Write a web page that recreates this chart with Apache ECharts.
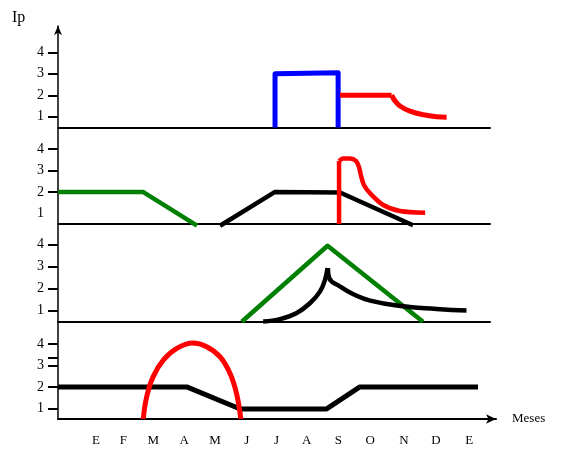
<!DOCTYPE html>
<html>
<head>
<meta charset="utf-8">
<script src="https://cdn.jsdelivr.net/npm/echarts@6/dist/echarts.min.js"></script>
<style>
  html, body { margin: 0; padding: 0; background: #fff; }
  #chart { width: 568px; height: 464px; }
</style>
</head>
<body>
<div id="chart"></div>
<script>
// months on the bottom axis and where each label sits (month units)
const months = ['E', 'F', 'M', 'A', 'M', 'J', 'J', 'A', 'S', 'O', 'N', 'D', 'E'];
const monthPos = [0, 0.88, 1.84, 2.84, 3.83, 4.85, 5.81, 6.78, 7.80, 8.82, 9.91, 10.94, 12.01];
const yLabels = [1, 2, 3, 4];

// panel 1
const p1Blue = [[5.76, 0.5], [5.76, 3.0], [7.79, 3.05], [7.79, 0.5]];
const p1RedFlat = [[7.85, 2], [9.51, 2]];
const p1RedTail = [[9.51, 2.0], [9.62, 1.74], [9.78, 1.5], [10.1, 1.26], [10.53, 1.09], [10.96, 1.0], [11.28, 0.98]];

// panel 2
const p2Green = [[-1.22, 2], [1.51, 2], [3.25, 0.42]];
const p2Black = [[3.99, 0.42], [5.76, 2], [7.85, 1.97], [10.2, 0.44]];
const p2RedRise = [[7.82, 0.5], [7.82, 3.44]];
const p2RedTail = [[7.82, 3.44], [7.95, 3.56], [8.17, 3.56], [8.37, 3.44], [8.46, 3.16], [8.53, 2.74], [8.62, 2.32], [8.82, 1.93], [9.24, 1.39], [9.78, 1.11], [10.59, 1.03]];

// panel 3
const p3Green = [[4.69, 0.5], [7.45, 3.95], [10.52, 0.5]];
const p3BlackRise = [[5.38, 0.51], [5.92, 0.62], [6.46, 0.9], [6.89, 1.35], [7.21, 1.88], [7.37, 2.41], [7.45, 2.94]];
const p3BlackTail = [[7.46, 2.94], [7.5, 2.5], [7.85, 2.1], [8.28, 1.75], [8.82, 1.46], [9.89, 1.2], [10.96, 1.08], [11.92, 1.01]];

// panel 4
const p4Black = [[-1.22, 2], [2.92, 2], [4.64, 0.97], [7.42, 0.97], [8.49, 2], [12.29, 2]];
const p4Red = [[1.52, 0.5], [1.63, 1.54], [1.84, 2.48], [2.17, 3.26], [2.6, 3.8], [3.11, 4.05], [3.56, 3.88], [3.99, 3.41], [4.31, 2.64], [4.52, 1.7], [4.66, 0.5]];

const FONT = '"Liberation Serif", "Times New Roman", serif';
const X_MIN = -1.223;
const UNIT = 31.08;

const panels = [
  { top: 41.5, height: 86, width: 432, ticks: [1, 2, 3, 4] },
  { top: 138.4, height: 85.6, width: 432, ticks: [2, 3, 4] },
  { top: 233.7, height: 88, width: 432, ticks: [1, 2, 3, 4] },
  { top: 333.4, height: 85.6, width: 438, ticks: [1, 2, 3, 3.35, 4] }
];

const chart = echarts.init(document.getElementById('chart'));

const grids = panels.map(p => ({ left: 58, top: p.top, width: p.width, height: p.height, outerBoundsMode: 'none' }));
grids.push({ left: 58, top: 26, width: 438, height: 393, outerBoundsMode: 'none' });

const xAxes = panels.map((p, i) => {
  const last = i === 3;
  return {
    gridIndex: i,
    type: 'value',
    min: X_MIN,
    max: X_MIN + p.width / UNIT,
    splitLine: { show: false },
    axisTick: { show: false },
    axisLine: {
      show: true,
      onZero: false,
      symbol: last ? ['none', 'arrow'] : 'none',
      symbolSize: [7, 10],
      lineStyle: { color: '#000', width: 2 }
    },
    name: last ? 'Meses' : '',
    nameLocation: 'end',
    nameGap: 16,
    nameTextStyle: { fontFamily: FONT, fontSize: 13, color: '#000' },
    axisLabel: last ? {
      show: true,
      customValues: monthPos,
      margin: 15,
      fontFamily: FONT,
      fontSize: 13,
      color: '#000',
      formatter: v => {
        let best = 0;
        monthPos.forEach((m, k) => { if (Math.abs(m - v) < Math.abs(monthPos[best] - v)) best = k; });
        return months[best];
      }
    } : { show: false }
  };
});
xAxes.push({ gridIndex: 4, type: 'value', min: 0, max: 1, show: false });

const yAxes = panels.map((p, i) => ({
  gridIndex: i,
  type: 'value',
  min: 0.5,
  max: 4.5,
  splitLine: { show: false },
  axisLine: { show: false, onZero: false },
  axisTick: { show: true, length: 10, customValues: p.ticks, lineStyle: { color: '#000', width: 2 } },
  axisLabel: { customValues: yLabels, margin: 14, fontFamily: FONT, fontSize: 14, color: '#000' }
}));
yAxes.push({
  gridIndex: 4,
  type: 'value',
  min: 0,
  max: 1,
  splitLine: { show: false },
  axisTick: { show: false },
  axisLabel: { show: false },
  axisLine: { show: true, onZero: false, symbol: ['none', 'arrow'], symbolSize: [6, 9], lineStyle: { color: '#000', width: 1.5 } }
});

function line(idx, data, color, width, smooth) {
  return {
    type: 'line',
    xAxisIndex: idx,
    yAxisIndex: idx,
    data: data,
    smooth: smooth || false,
    showSymbol: false,
    symbol: 'none',
    clip: false,
    silent: true,
    lineStyle: { color: color, width: width, join: 'round' }
  };
}

const BLUE = '#0000ff';
const RED = '#ff0000';
const GREEN = '#008000';
const BLACK = '#000000';

chart.setOption({
  animation: false,
  backgroundColor: '#fff',
  title: {
    text: 'Ip',
    left: 12,
    top: 10,
    padding: 0,
    textStyle: { fontFamily: FONT, fontSize: 16, fontWeight: 'normal', color: '#000' }
  },
  grid: grids,
  xAxis: xAxes,
  yAxis: yAxes,
  series: [
    line(0, p1Blue, BLUE, 5),
    line(0, p1RedFlat, RED, 5),
    line(0, p1RedTail, RED, 5, 0.4),
    line(1, p2Green, GREEN, 4.5),
    line(1, p2Black, BLACK, 4.5),
    line(1, p2RedRise, RED, 4.5),
    line(1, p2RedTail, RED, 4.5, 0.3),
    line(2, p3Green, GREEN, 4.5),
    line(2, p3BlackRise, BLACK, 4.5, 0.4),
    line(2, p3BlackTail, BLACK, 4.5, 0.5),
    line(3, p4Black, BLACK, 5),
    line(3, p4Red, RED, 5, 0.4)
  ]
});
</script>
</body>
</html>
